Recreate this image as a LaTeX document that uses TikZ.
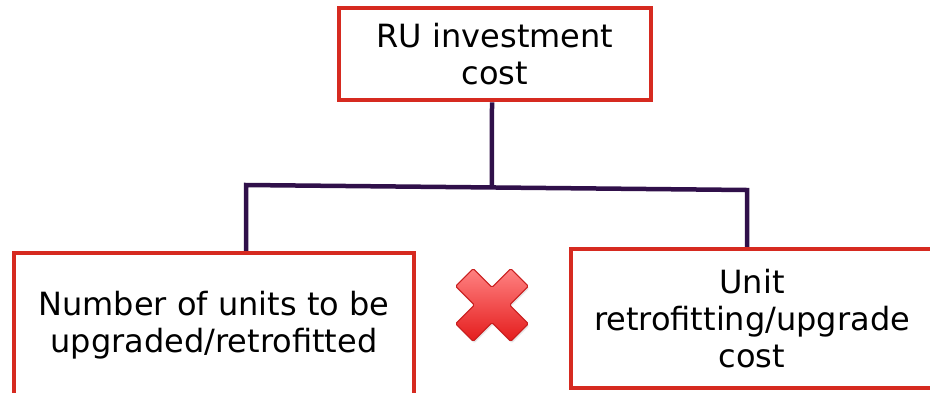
\documentclass[tikz,border=0pt]{standalone}
\usepackage{fontspec}
\setmainfont{DejaVu Sans}
\usetikzlibrary{calc,shadows,backgrounds}
\definecolor{boxred}{RGB}{214,42,32}
\definecolor{linkpurple}{RGB}{48,16,74}
\definecolor{crosslight}{RGB}{255,130,130}
\definecolor{crossdark}{RGB}{228,28,28}
\definecolor{crossedge}{RGB}{200,30,30}
\begin{document}
\begin{tikzpicture}[x=1pt,y=-1pt,
  box/.style={draw=boxred, line width=4.5pt, fill=white, align=center,
    inner sep=0pt, font=\fontsize{32}{37}\selectfont},
  link/.style={draw=linkpurple, line width=4.5pt},
  cross/.style={draw=crossedge, line width=1pt, rounded corners=1.5pt,
    top color=crosslight, bottom color=crossdark,
    drop shadow={opacity=0.2, shadow xshift=1pt, shadow yshift=-2pt}}]
\useasboundingbox (0,0) rectangle (930,392);

% the three cost boxes
\node[box, minimum width=312pt, minimum height=92pt] (top) at (495,54)
  {RU investment\\cost};
\node[box, minimum width=400pt, minimum height=144pt] (left) at (214,325)
  {Number of units to be\\upgraded/retrofitted};
\node[box, minimum width=362pt, minimum height=139pt] (right) at (752,318.5)
  {Unit\\retrofitting/upgrade\\cost};

% bracket joining the parent box to its two factors
\coordinate (jl) at (246,185);
\coordinate (jr) at (747,190);
\coordinate (jt) at ([xshift=-3pt]top.south);
\coordinate (jb) at ([yshift=-10pt]jt);
\begin{pgfonlayer}{background}
  \draw[link] (jl |- left.north) -- (jl) -- (jr) -- (jr |- right.north);
  \draw[link] (jt) -- (intersection of jt--jb and jl--jr);
\end{pgfonlayer}

% multiplication cross between the factors
\coordinate (xc) at (492,305);
\begin{scope}[shift={(xc)}]
  \path[cross] (0,17.68) -- (-18.74,36.43) -- (-36.43,18.74) -- (-17.68,0)
    -- (-36.43,-18.74) -- (-18.74,-36.43) -- (0,-17.68) -- (18.74,-36.43)
    -- (36.43,-18.74) -- (17.68,0) -- (36.43,18.74) -- (18.74,36.43) -- cycle;
\end{scope}
\end{tikzpicture}
\end{document}
